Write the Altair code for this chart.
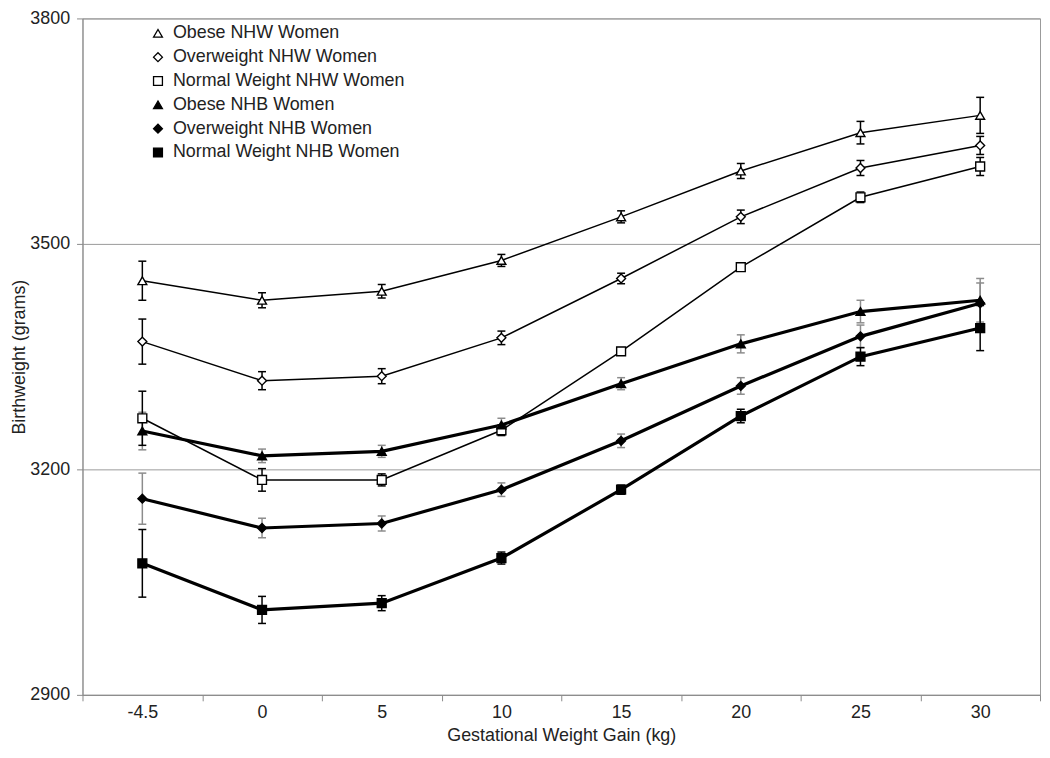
import altair as alt
import pandas as pd

gain_labels = ["-4.5", "0", "5", "10", "15", "20", "25", "30"]
series_names = [
    "Obese NHW Women",
    "Overweight NHW Women",
    "Normal Weight NHW Women",
    "Obese NHB Women",
    "Overweight NHB Women",
    "Normal Weight NHB Women",
]

obese_nhw = [3451, 3425, 3437, 3478, 3536, 3597, 3648, 3671]
obese_nhw_err = [26, 10, 9, 8, 8, 10, 15, 24]
overweight_nhw = [3370, 3318, 3324, 3375, 3454, 3536, 3601, 3631]
overweight_nhw_err = [30, 12, 10, 9, 7, 9, 10, 12]
normal_nhw = [3268, 3186, 3186, 3252, 3357, 3469, 3562, 3603]
normal_nhw_err = [36, 15, 8, 7, 5, 5, 7, 12]
obese_nhb = [3251, 3218, 3224, 3259, 3314, 3367, 3410, 3425]
obese_nhb_err = [25, 9, 8, 9, 8, 12, 15, 29]
overweight_nhb = [3161, 3122, 3128, 3173, 3238, 3311, 3377, 3421]
overweight_nhb_err = [34, 13, 10, 9, 9, 11, 15, 27]
normal_nhb = [3075, 3013, 3022, 3082, 3173, 3271, 3350, 3388]
normal_nhb_err = [45, 18, 10, 8, 6, 9, 12, 30]

values = [obese_nhw, overweight_nhw, normal_nhw, obese_nhb, overweight_nhb, normal_nhb]
errors = [obese_nhw_err, overweight_nhw_err, normal_nhw_err, obese_nhb_err, overweight_nhb_err, normal_nhb_err]

rows = []
for name, vals, errs in zip(series_names, values, errors):
    for g, v, e in zip(gain_labels, vals, errs):
        rows.append({"gain": g, "series": name, "bw": v, "lo": v - e, "hi": v + e})
df = pd.DataFrame(rows)

FONT = "Liberation Sans"
shape_range = ["triangle-up", "diamond", "square", "triangle-up", "diamond", "square"]
fill_range = ["white", "white", "white", "black", "black", "black"]

nhw_series = series_names[:3]
nhb_series = series_names[3:]
gray_err_series = ["Obese NHB Women", "Overweight NHB Women"]
black_err_series = [s for s in series_names if s not in gray_err_series]

legend = alt.Legend(
    title=None,
    orient="none",
    legendX=67,
    legendY=6,
    labelFontSize=18,
    labelFont=FONT,
    labelColor="#222222",
    labelLimit=0,
    rowPadding=6,
    labelOffset=6,
    padding=0,
    symbolSize=80,
    symbolStrokeWidth=1.3,
)

x_enc = alt.X(
    "gain:O",
    sort=gain_labels,
    bandPosition=0.5,
    scale=alt.Scale(type="band", paddingInner=0, paddingOuter=0),
    axis=alt.Axis(
        title="Gestational Weight Gain (kg)",
        labelAngle=0,
        grid=False,
        tickBand="extent",
        tickSize=6,
        labelPadding=3,
        titlePadding=5,
    ),
)
y_scale = alt.Scale(domain=[2900, 3800], nice=False, zero=False)
y_enc = alt.Y(
    "bw:Q",
    scale=y_scale,
    axis=alt.Axis(
        title="Birthweight  (grams)",
        values=[2900, 3200, 3500, 3800],
        format="d",
        grid=True,
        tickSize=6,
        labelPadding=7,
        titlePadding=1,
    ),
)

color_enc = alt.Color("series:N", scale=alt.Scale(domain=series_names, range=["black"] * 6), legend=legend)
shape_enc = alt.Shape("series:N", scale=alt.Scale(domain=series_names, range=shape_range), legend=legend)
fill_enc = alt.Fill("series:N", scale=alt.Scale(domain=series_names, range=fill_range), legend=legend)

base = alt.Chart(df)


def only(names):
    return base.transform_filter(alt.FieldOneOfPredicate(field="series", oneOf=names))


def err_layers(names, col):
    b = only(names)
    rule = b.mark_rule(color=col, strokeWidth=1.5).encode(
        x=x_enc, y=alt.Y("lo:Q", scale=y_scale), y2="hi:Q"
    )
    cap_lo = b.mark_tick(color=col, thickness=1.5, size=8, opacity=1).encode(
        x=x_enc, y=alt.Y("lo:Q", scale=y_scale)
    )
    cap_hi = b.mark_tick(color=col, thickness=1.5, size=8, opacity=1).encode(
        x=x_enc, y=alt.Y("hi:Q", scale=y_scale)
    )
    return [rule, cap_lo, cap_hi]


lines_nhw = only(nhw_series).mark_line(strokeWidth=1.5).encode(x=x_enc, y=y_enc, color=color_enc)
lines_nhb = only(nhb_series).mark_line(strokeWidth=3.2).encode(x=x_enc, y=y_enc, color=color_enc)

points_nhw = only(nhw_series).mark_point(opacity=1, fillOpacity=1, strokeWidth=1.4, size=80).encode(
    x=x_enc, y=y_enc, color=color_enc, shape=shape_enc, fill=fill_enc
)
points_nhb = only(nhb_series).mark_point(opacity=1, fillOpacity=1, strokeWidth=1.4, size=80).encode(
    x=x_enc, y=y_enc, color=color_enc, shape=shape_enc, fill=fill_enc
)

chart = alt.layer(
    *err_layers(gray_err_series, "#8c8c8c"),
    *err_layers(black_err_series, "black"),
    lines_nhw,
    lines_nhb,
    points_nhw,
    points_nhb,
).properties(
    width=964,
    height=681,
    autosize=alt.AutoSizeParams(type="none"),
    padding={"left": 75, "top": 8, "right": 2, "bottom": 49},
    background="white",
).configure_view(
    stroke="#9a9a9a", strokeWidth=1
).configure_axis(
    domainColor="#8a8a8a",
    tickColor="#8a8a8a",
    gridColor="#9a9a9a",
    gridWidth=1,
    labelFont=FONT,
    titleFont=FONT,
    labelFontSize=18,
    titleFontSize=18,
    titleFontWeight="normal",
    labelColor="#222222",
    titleColor="#222222",
)

chart.save("out.html", embed_options={"renderer": "svg", "actions": False})
